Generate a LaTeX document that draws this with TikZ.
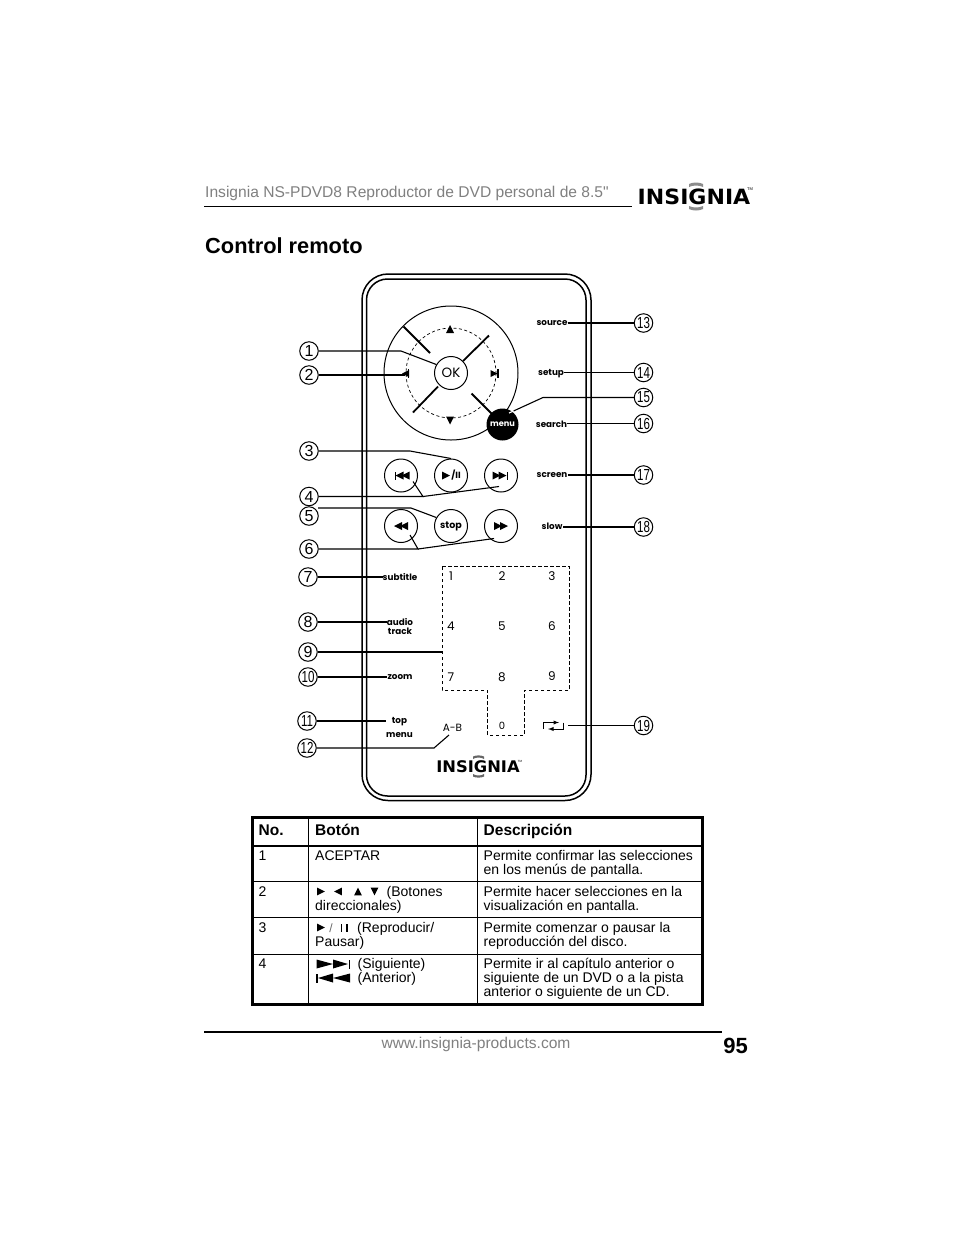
\documentclass[tikz,border=0pt]{standalone}
\usepackage{fontspec}
\setmainfont{Liberation Sans}
\newfontfamily\pagefont{Liberation Sans}
\newfontfamily\remotefont{Poppins}
\newfontfamily\logofont{DejaVu Sans}
\newcommand{\narrow}[1]{\scalebox{.72}[1]{#1}}
\newcommand{\lefttri}[3]{\fill (#1+#3,#2-#3) -- (#1+#3,#2+#3) -- (#1-#3,#2) -- cycle;}
\newcommand{\righttri}[3]{\fill (#1-#3,#2-#3) -- (#1-#3,#2+#3) -- (#1+#3,#2) -- cycle;}
\newcommand{\uptri}[3]{\fill (#1-#3,#2+#3) -- (#1+#3,#2+#3) -- (#1,#2-#3) -- cycle;}
\newcommand{\downtri}[3]{\fill (#1-#3,#2-#3) -- (#1+#3,#2-#3) -- (#1,#2+#3) -- cycle;}
\begin{document}
\begin{tikzpicture}[x=1pt,y=-1pt]
	\tikzstyle{callout}=[circle,draw=black,line width=1pt,minimum size=18.5pt,inner sep=0pt,font=\fontsize{16}{16}\selectfont]
	\tikzstyle{button}=[circle,draw=black,line width=1pt,minimum size=33pt,inner sep=0pt,font=\remotefont\bfseries\fontsize{9.5}{10}\selectfont]
	\tikzstyle{keylabel}=[inner sep=0pt,font=\remotefont\bfseries\fontsize{8.8}{9}\selectfont]
	\tikzstyle{digit}=[inner sep=0pt,font=\remotefont\fontsize{12}{12}\selectfont]
	\tikzstyle{leader}=[draw,line width=1.1pt]
	\tikzstyle{spoke}=[draw,line width=1.8pt]
	\tikzstyle{cell}=[anchor=north west,inner sep=0pt,align=left,font=\fontsize{14}{14}\selectfont]
	\tikzstyle{head}=[anchor=base west,inner sep=0pt,font=\bfseries\fontsize{15.5}{15}\selectfont]
	\tikzstyle{grayline}=[anchor=base west,inner sep=0pt,text=black!50,font=\pagefont\fontsize{15.6}{16}\selectfont]
	\useasboundingbox (0,0) rectangle (954,1235);
	\fill[white] (0,0) rectangle (954,1235);

	\node [grayline] (title) at (205,197) {Insignia NS-PDVD8 Reproductor de DVD personal de 8.5"};
	\coordinate (ruleA) at (204,206);
	\coordinate (ruleB) at (632,206);
	\draw[line width=.9pt] (ruleA) -- (ruleB);
	\node [anchor=base,inner sep=0pt,font=\logofont\bfseries\fontsize{21}{21}\selectfont] (logoA) at (694,204) {\scalebox{1.05}[1]{INSIGNIA}};
	\node [inner sep=0pt,font=\fontsize{4}{4}\selectfont] (tmA) at (750,189) {TM};
	\fill[black!45] (689,187) .. controls (693,185) and (699,185) .. (703,187) -- (703,184) .. controls (699,182) and (693,182) .. (689,184) -- cycle;
	\fill[black!45] (689,206) .. controls (693,208) and (699,208) .. (703,206) -- (703,209) .. controls (699,211) and (693,211) .. (689,209) -- cycle;
	\node [anchor=base west,inner sep=0pt,font=\bfseries\fontsize{21.8}{22}\selectfont] (heading) at (205,253) {Control remoto};

	\draw[line width=1.5pt,rounded corners=26pt] (362,274) rectangle (591,800.5);
	\draw[line width=1.5pt,rounded corners=21pt] (366.5,279) rectangle (586,796);

	\draw[line width=1pt] (451,373) circle (67);
	\draw[line width=.7pt,dash pattern=on 3pt off 2.5pt] (451,373) circle (45);
	\node [button,fill=white,font=\remotefont\fontsize{13.5}{13}\selectfont] (ok) at (451,373) {OK};
	\coordinate (s1a) at (403.5,326.5);
	\coordinate (s1b) at (430,353);
	\coordinate (s2a) at (489,335.5);
	\coordinate (s2b) at (463,361);
	\coordinate (s3a) at (438,386.5);
	\coordinate (s3b) at (413,412.5);
	\coordinate (s4a) at (471.5,393.5);
	\coordinate (s4b) at (495,417);
	\path[spoke] (s1a) -- (s1b);
	\path[spoke] (s2a) -- (s2b);
	\path[spoke] (s3a) -- (s3b);
	\path[spoke] (s4a) -- (s4b);
	\uptri{450}{329}{4}
	\downtri{450}{420.5}{4}
	\lefttri{405.5}{373.5}{3.5}
	\fill (407.5,369) rectangle (409,378);
	\righttri{494}{373.5}{3.5}
	\fill (497,369) rectangle (498.5,378);
	\node [circle,fill=black,minimum size=32pt,inner sep=0pt,text=white,font=\remotefont\bfseries\fontsize{8.2}{8}\selectfont] (menu) at (502.5,424.5) {menu};

	\node [button] (prev) at (401,475.5) {};
	\node [button] (play) at (451,475.5) {};
	\node [button] (next) at (501,475.5) {};
	\node [button,font=\remotefont\bfseries\fontsize{9.5}{10}\selectfont] (stop) at (451,526) {stop};
	\node [button] (rew) at (401,526) {};
	\node [button] (ffw) at (501,526) {};
	\fill (394.5,471.5) rectangle (396,479.5);
	\lefttri{399.5}{475.5}{4}
	\lefttri{405.5}{475.5}{4}
	\righttri{496.5}{475.5}{4}
	\righttri{502.5}{475.5}{4}
	\fill (506.5,471.5) rectangle (508,479.5);
	\righttri{446}{475.5}{4}
	\node [inner sep=0pt,font=\remotefont\bfseries\fontsize{9}{9}\selectfont] (pause) at (456,475.5) {/II};
	\lefttri{398}{526}{4}
	\lefttri{404}{526}{4}
	\righttri{498}{526}{4}
	\righttri{504}{526}{4}

	\node [keylabel] (source) at (552,323.5) {source};
	\node [keylabel] (setup) at (551,374) {setup};
	\node [keylabel] (search) at (551.5,424) {search};
	\node [keylabel] (screen) at (552,475) {screen};
	\node [keylabel] (slow) at (552,526.5) {slow};
	\node [keylabel] (subtitle) at (400,577) {subtitle};
	\node [keylabel,align=center] (audio) at (400,627) {audio\\track};
	\node [keylabel] (zoom) at (400,677) {zoom};
	\node [keylabel] (top) at (399.5,721.5) {top};
	\node [keylabel] (tmenu) at (399.5,735.5) {menu};
	\node [inner sep=0pt,font=\remotefont\fontsize{10.5}{11}\selectfont] (ab) at (452.5,728) {A-B};

	\draw[line width=.9pt,dash pattern=on 3.5pt off 2.5pt] (442,566) -- (569,566) -- (569,690) -- (524,690) -- (524,735) -- (487.5,735) -- (487.5,690) -- (442,690) -- cycle;
	\node [digit] (k1) at (451,576) {1};
	\node [digit] (k2) at (502,576) {2};
	\node [digit] (k3) at (552,576) {3};
	\node [digit] (k4) at (451,626) {4};
	\node [digit] (k5) at (502,626) {5};
	\node [digit] (k6) at (552,626) {6};
	\node [digit] (k7) at (451,677) {7};
	\node [digit] (k8) at (502,677) {8};
	\node [digit] (k9) at (552,676) {9};
	\node [digit,font=\remotefont\fontsize{10}{10}\selectfont] (k0) at (502,725.5) {0};

	\coordinate (rptA) at (543.5,729);
	\coordinate (rptB) at (543.5,722.5);
	\coordinate (rptC) at (559,722.5);
	\coordinate (rptD) at (563.5,722.5);
	\coordinate (rptE) at (563.5,729);
	\coordinate (rptF) at (548,729);
	\draw[line width=.9pt,-latex] (rptA) -- (rptB) -- (rptC);
	\draw[line width=.9pt,-latex] (rptD) -- (rptE) -- (rptF);
	\coordinate (rptEnd) at (568,725.5);

	\node [inner sep=0pt,font=\logofont\bfseries\fontsize{16}{16}\selectfont] (logoB) at (478,767) {\scalebox{1.02}[1]{INSIGNIA}};
	\node [inner sep=0pt,font=\fontsize{3}{3}\selectfont] (tmB) at (520,761) {TM};
	\fill[black!60] (473,759) .. controls (476,757) and (481,757) .. (484,759) -- (484,756.5) .. controls (481,755) and (476,755) .. (473,756.5) -- cycle;
	\fill[black!60] (473,774) .. controls (476,776) and (481,776) .. (484,774) -- (484,776.5) .. controls (481,778) and (476,778) .. (473,776.5) -- cycle;

	\node [callout] (c1) at (309,351) {1};
	\node [callout] (c2) at (309,375) {2};
	\node [callout] (c3) at (309,451) {3};
	\node [callout] (c4) at (309,496.5) {4};
	\node [callout] (c5) at (309,516) {5};
	\node [callout] (c6) at (309,549) {6};
	\node [callout] (c7) at (308,577) {7};
	\node [callout] (c8) at (308,622) {8};
	\node [callout] (c9) at (308,652) {9};
	\node [callout] (c10) at (308,677) {\narrow{10}};
	\node [callout] (c11) at (307,721) {\narrow{11}};
	\node [callout] (c12) at (307,748) {\narrow{12}};
	\node [callout] (c13) at (643.5,323) {\narrow{13}};
	\node [callout] (c14) at (643.5,372.5) {\narrow{14}};
	\node [callout] (c15) at (643.5,397.5) {\narrow{15}};
	\node [callout] (c16) at (643.5,423.5) {\narrow{16}};
	\node [callout] (c17) at (643.5,475) {\narrow{17}};
	\node [callout] (c18) at (643.5,527) {\narrow{18}};
	\node [callout] (c19) at (643.5,725.5) {\narrow{19}};

	\coordinate (b1) at (401,351);
	\coordinate (e2) at (405,375);
	\coordinate (b3) at (410,451);
	\coordinate (b4) at (423,496.5);
	\coordinate (e4a) at (413,481.5);
	\coordinate (e4b) at (499,486.5);
	\coordinate (a5) at (318,508);
	\coordinate (b5) at (411,508);
	\coordinate (b6) at (418,549);
	\coordinate (e6a) at (410,535);
	\coordinate (e6b) at (494,538.5);
	\coordinate (e9) at (442,652);
	\coordinate (e11) at (386,721);
	\coordinate (b12) at (434,748);
	\coordinate (e12) at (449,735);
	\coordinate (b15) at (543,397.5);
	\coordinate (e15) at (513.5,411);
	\coordinate (t15) at (509,413);
	\path[leader] (c1) -- (b1) -- (ok.150);
	\path[leader] (c2) -- (e2);
	\path[leader] (c3) -- (b3) -- (play.north);
	\path[leader] (c4) -- (b4) -- (e4a);
	\path[leader] (b4) -- (e4b);
	\path[leader] (a5) -- (b5) -- (stop.150);
	\path[leader] (c6) -- (b6) -- (e6a);
	\path[leader] (b6) -- (e6b);
	\path[leader] (c7) -- (c7 -| subtitle.west);
	\path[leader] (c8) -- (c8 -| audio.west);
	\path[leader] (c9) -- (e9);
	\path[leader] (c10) -- (c10 -| zoom.west);
	\path[leader] (c11) -- (e11);
	\path[leader] (c12) -- (b12) -- (e12);
	\path[leader] (c13) -- (c13 -| source.east);
	\path[leader] (c14) -- (c14 -| setup.east);
	\path[leader] (c15) -- (b15) -- (e15);
	\path[leader,draw=white] (e15) -- (t15);
	\path[leader] (c16) -- (c16 -| search.east);
	\path[leader] (c17) -- (c17 -| screen.east);
	\path[leader] (c18) -- (c18 -| slow.east);
	\path[leader] (c19) -- (rptEnd);

	\draw[line width=3pt] (252,817) rectangle (702,1004.5);
	\draw[line width=2pt] (252,845.5) -- (702,845.5);
	\draw[line width=.8pt] (252,881) -- (702,881);
	\draw[line width=.8pt] (252,917) -- (702,917);
	\draw[line width=.8pt] (252,954) -- (702,954);
	\draw[line width=.8pt] (308.5,817) -- (308.5,1004.5);
	\draw[line width=.8pt] (477.5,817) -- (477.5,1004.5);
	\node [head] (hNo) at (258.5,835) {No.};
	\node [head] (hBtn) at (315,835) {Botón};
	\node [head] (hDesc) at (483.5,835) {Descripción};

	\node [cell] (n1) at (258.5,850.7) {1};
	\node [cell] (b1t) at (315,850.7) {ACEPTAR};
	\node [cell] (d1) at (483.5,850) {Permite confirmar las selecciones\\en los menús de pantalla.};
	\node [cell] (n2) at (258.5,886.7) {2};
	\node [cell] (b2t) at (386.5,886) {(Botones};
	\node [cell] (b2u) at (315,900) {direccionales)};
	\node [cell] (d2) at (483.5,886) {Permite hacer selecciones en la\\visualización en pantalla.};
	\node [cell] (n3) at (258.5,922.7) {3};
	\node [cell] (b3t) at (357,922) {(Reproducir/};
	\node [cell] (b3u) at (315,936) {Pausar)};
	\node [cell] (d3) at (483.5,922) {Permite comenzar o pausar la\\reproducción del disco.};
	\node [cell] (n4) at (258.5,958.7) {4};
	\node [cell] (b4t) at (357.5,958) {(Siguiente)};
	\node [cell] (b4u) at (357.5,972) {(Anterior)};
	\node [cell] (d4) at (483.5,958) {Permite ir al capítulo anterior o\\siguiente de un DVD o a la pista\\anterior o siguiente de un CD.};

	\righttri{321}{891.5}{3.8}
	\lefttri{338}{891.5}{3.8}
	\uptri{358}{891.5}{3.8}
	\downtri{374.5}{891.5}{3.8}
	\righttri{321}{927.5}{3.8}
	\node [inner sep=0pt,text=black!60,font=\fontsize{12}{12}\selectfont] (slash) at (331,928) {/};
	\fill (340.5,923.5) rectangle (342,932);
	\fill (346,923.5) rectangle (347.5,932);
	\fill (316.5,959.5) -- (333,964) -- (316.5,968.5) -- cycle;
	\fill (333,959.5) -- (348,964) -- (333,968.5) -- cycle;
	\fill (348.5,959.5) rectangle (350,968.5);
	\fill (316,973.5) rectangle (317.5,982.5);
	\fill (333,973.5) -- (318,978) -- (333,982.5) -- cycle;
	\fill (350,973.5) -- (333,978) -- (350,982.5) -- cycle;

	\coordinate (ruleC) at (204,1032);
	\coordinate (ruleD) at (722,1032);
	\draw[line width=1.6pt] (ruleC) -- (ruleD);
	\node [grayline,anchor=base] (url) at (476,1048) {www.insignia-products.com};
	\node [anchor=base east,inner sep=0pt,font=\bfseries\fontsize{22}{22}\selectfont] (page) at (748,1053) {95};
\end{tikzpicture}
\end{document}
